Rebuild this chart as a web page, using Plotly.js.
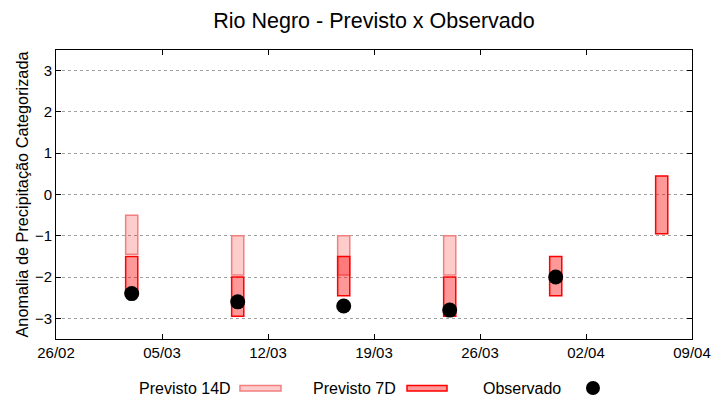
<!DOCTYPE html>
<html>
<head>
<meta charset="utf-8">
<script src="https://cdn.plot.ly/plotly-3.0.1.min.js"></script>
<style>html,body{margin:0;padding:0;background:#fff;}#chart{width:720px;height:400px;}</style>
</head>
<body>
<div id="chart"></div>
<script>
// Data
const dates = ['2023-03-03', '2023-03-10', '2023-03-17', '2023-03-24', '2023-03-31', '2023-04-07'];
const prev14Top = [-0.5, -1.0, -1.0, -1.0, null, null];
const prev14Bot = [-1.45, -1.95, -1.95, -1.95, null, null];
const prev7Top = [-1.5, -2.0, -1.5, -2.0, -1.5, 0.45];
const prev7Bot = [-2.45, -2.95, -2.45, -2.95, -2.45, -0.95];
const observado = [-2.4, -2.6, -2.7, -2.8, -2.0, null];
const tickVals = ['2023-02-26', '2023-03-05', '2023-03-12', '2023-03-19', '2023-03-26', '2023-04-02', '2023-04-09'];
const tickText = ['26/02', '05/03', '12/03', '19/03', '26/03', '02/04', '09/04'];
const yTicks = [-3, -2, -1, 0, 1, 2, 3];

const DAY = 86400000;
const FONT = 'Liberation Sans, Arial, sans-serif';

function span(top, bot) { return top.map((t, i) => (t === null || bot[i] === null) ? null : t - bot[i]); }

const traces = [
  {
    type: 'bar', name: 'Previsto 14D', x: dates, base: prev14Bot, y: span(prev14Top, prev14Bot),
    width: dates.map(() => 0.8 * DAY),
    marker: { color: 'rgba(255,0,0,0.2)', line: { color: '#f08080', width: 1.5 } },
    showlegend: false, hoverinfo: 'skip'
  },
  {
    type: 'bar', name: 'Previsto 7D', x: dates, base: prev7Bot, y: span(prev7Top, prev7Bot),
    width: dates.map(() => 0.8 * DAY),
    marker: { color: 'rgba(255,0,0,0.4)', line: { color: '#ff0000', width: 1.5 } },
    showlegend: false, hoverinfo: 'skip'
  },
  {
    type: 'scatter', mode: 'markers', name: 'Observado', x: dates, y: observado,
    marker: { color: '#000000', size: 15, symbol: 'circle' },
    showlegend: false, hoverinfo: 'skip'
  }
];

// custom legend (gnuplot style: text then key symbol)
const LY = -0.1696;
const annotations = [
  { text: 'Previsto 14D', x: 0.2783, xanchor: 'right' },
  { text: 'Previsto 7D', x: 0.5377, xanchor: 'right' },
  { text: 'Observado', x: 0.7972, xanchor: 'right' }
].map(a => Object.assign({ xref: 'paper', yref: 'paper', y: LY, yanchor: 'middle', showarrow: false,
  font: { family: FONT, size: 16, color: '#000' } }, a));

const shapes = [
  { type: 'rect', xref: 'paper', yref: 'paper', x0: 0.2893, x1: 0.3538, y0: -0.1609, y1: -0.1799,
    fillcolor: 'rgba(255,0,0,0.2)', line: { color: '#f08080', width: 1.5 } },
  { type: 'rect', xref: 'paper', yref: 'paper', x0: 0.5519, x1: 0.6148, y0: -0.1609, y1: -0.1799,
    fillcolor: 'rgba(255,0,0,0.4)', line: { color: '#ff0000', width: 1.5 } },
  { type: 'circle', xref: 'paper', yref: 'paper', x0: 0.8333, x1: 0.8553, y0: LY - 0.0242, y1: LY + 0.0242,
    fillcolor: '#000', line: { color: '#000', width: 0 } }
];

const layout = {
  width: 720, height: 400,
  margin: { l: 56, r: 28, t: 50, b: 61 },
  paper_bgcolor: '#fff', plot_bgcolor: '#fff',
  font: { family: FONT, size: 15, color: '#000' },
  title: { text: 'Rio Negro - Previsto x Observado', font: { family: FONT, size: 21.5, color: '#000' },
    x: 0.5, xref: 'paper', y: 0.948, yref: 'container', yanchor: 'middle' },
  barmode: 'overlay',
  showlegend: false,
  xaxis: {
    type: 'date', range: [tickVals[0], tickVals[tickVals.length - 1]],
    tickmode: 'array', tickvals: tickVals, ticktext: tickText,
    showgrid: false, zeroline: false,
    showline: true, linecolor: '#000', linewidth: 1, mirror: 'allticks',
    ticks: 'inside', ticklen: 5, tickcolor: '#000', tickwidth: 1,
    tickfont: { family: FONT, size: 15, color: '#000' }
  },
  yaxis: {
    range: [-3.5, 3.5], tickmode: 'array', tickvals: yTicks,
    showgrid: true, gridcolor: '#a0a0a0', griddash: 'dot', gridwidth: 1,
    zeroline: false,
    showline: true, linecolor: '#000', linewidth: 1, mirror: 'allticks',
    ticks: 'inside', ticklen: 5, tickcolor: '#000', tickwidth: 1,
    tickfont: { family: FONT, size: 15, color: '#000' },
    title: { text: 'Anomalia de Precipitação Categorizada', font: { family: FONT, size: 16.3, color: '#000' }, standoff: 2 }
  },
  annotations: annotations,
  shapes: shapes
};

Plotly.newPlot('chart', traces, layout, { staticPlot: true, displayModeBar: false });
</script>
</body>
</html>
